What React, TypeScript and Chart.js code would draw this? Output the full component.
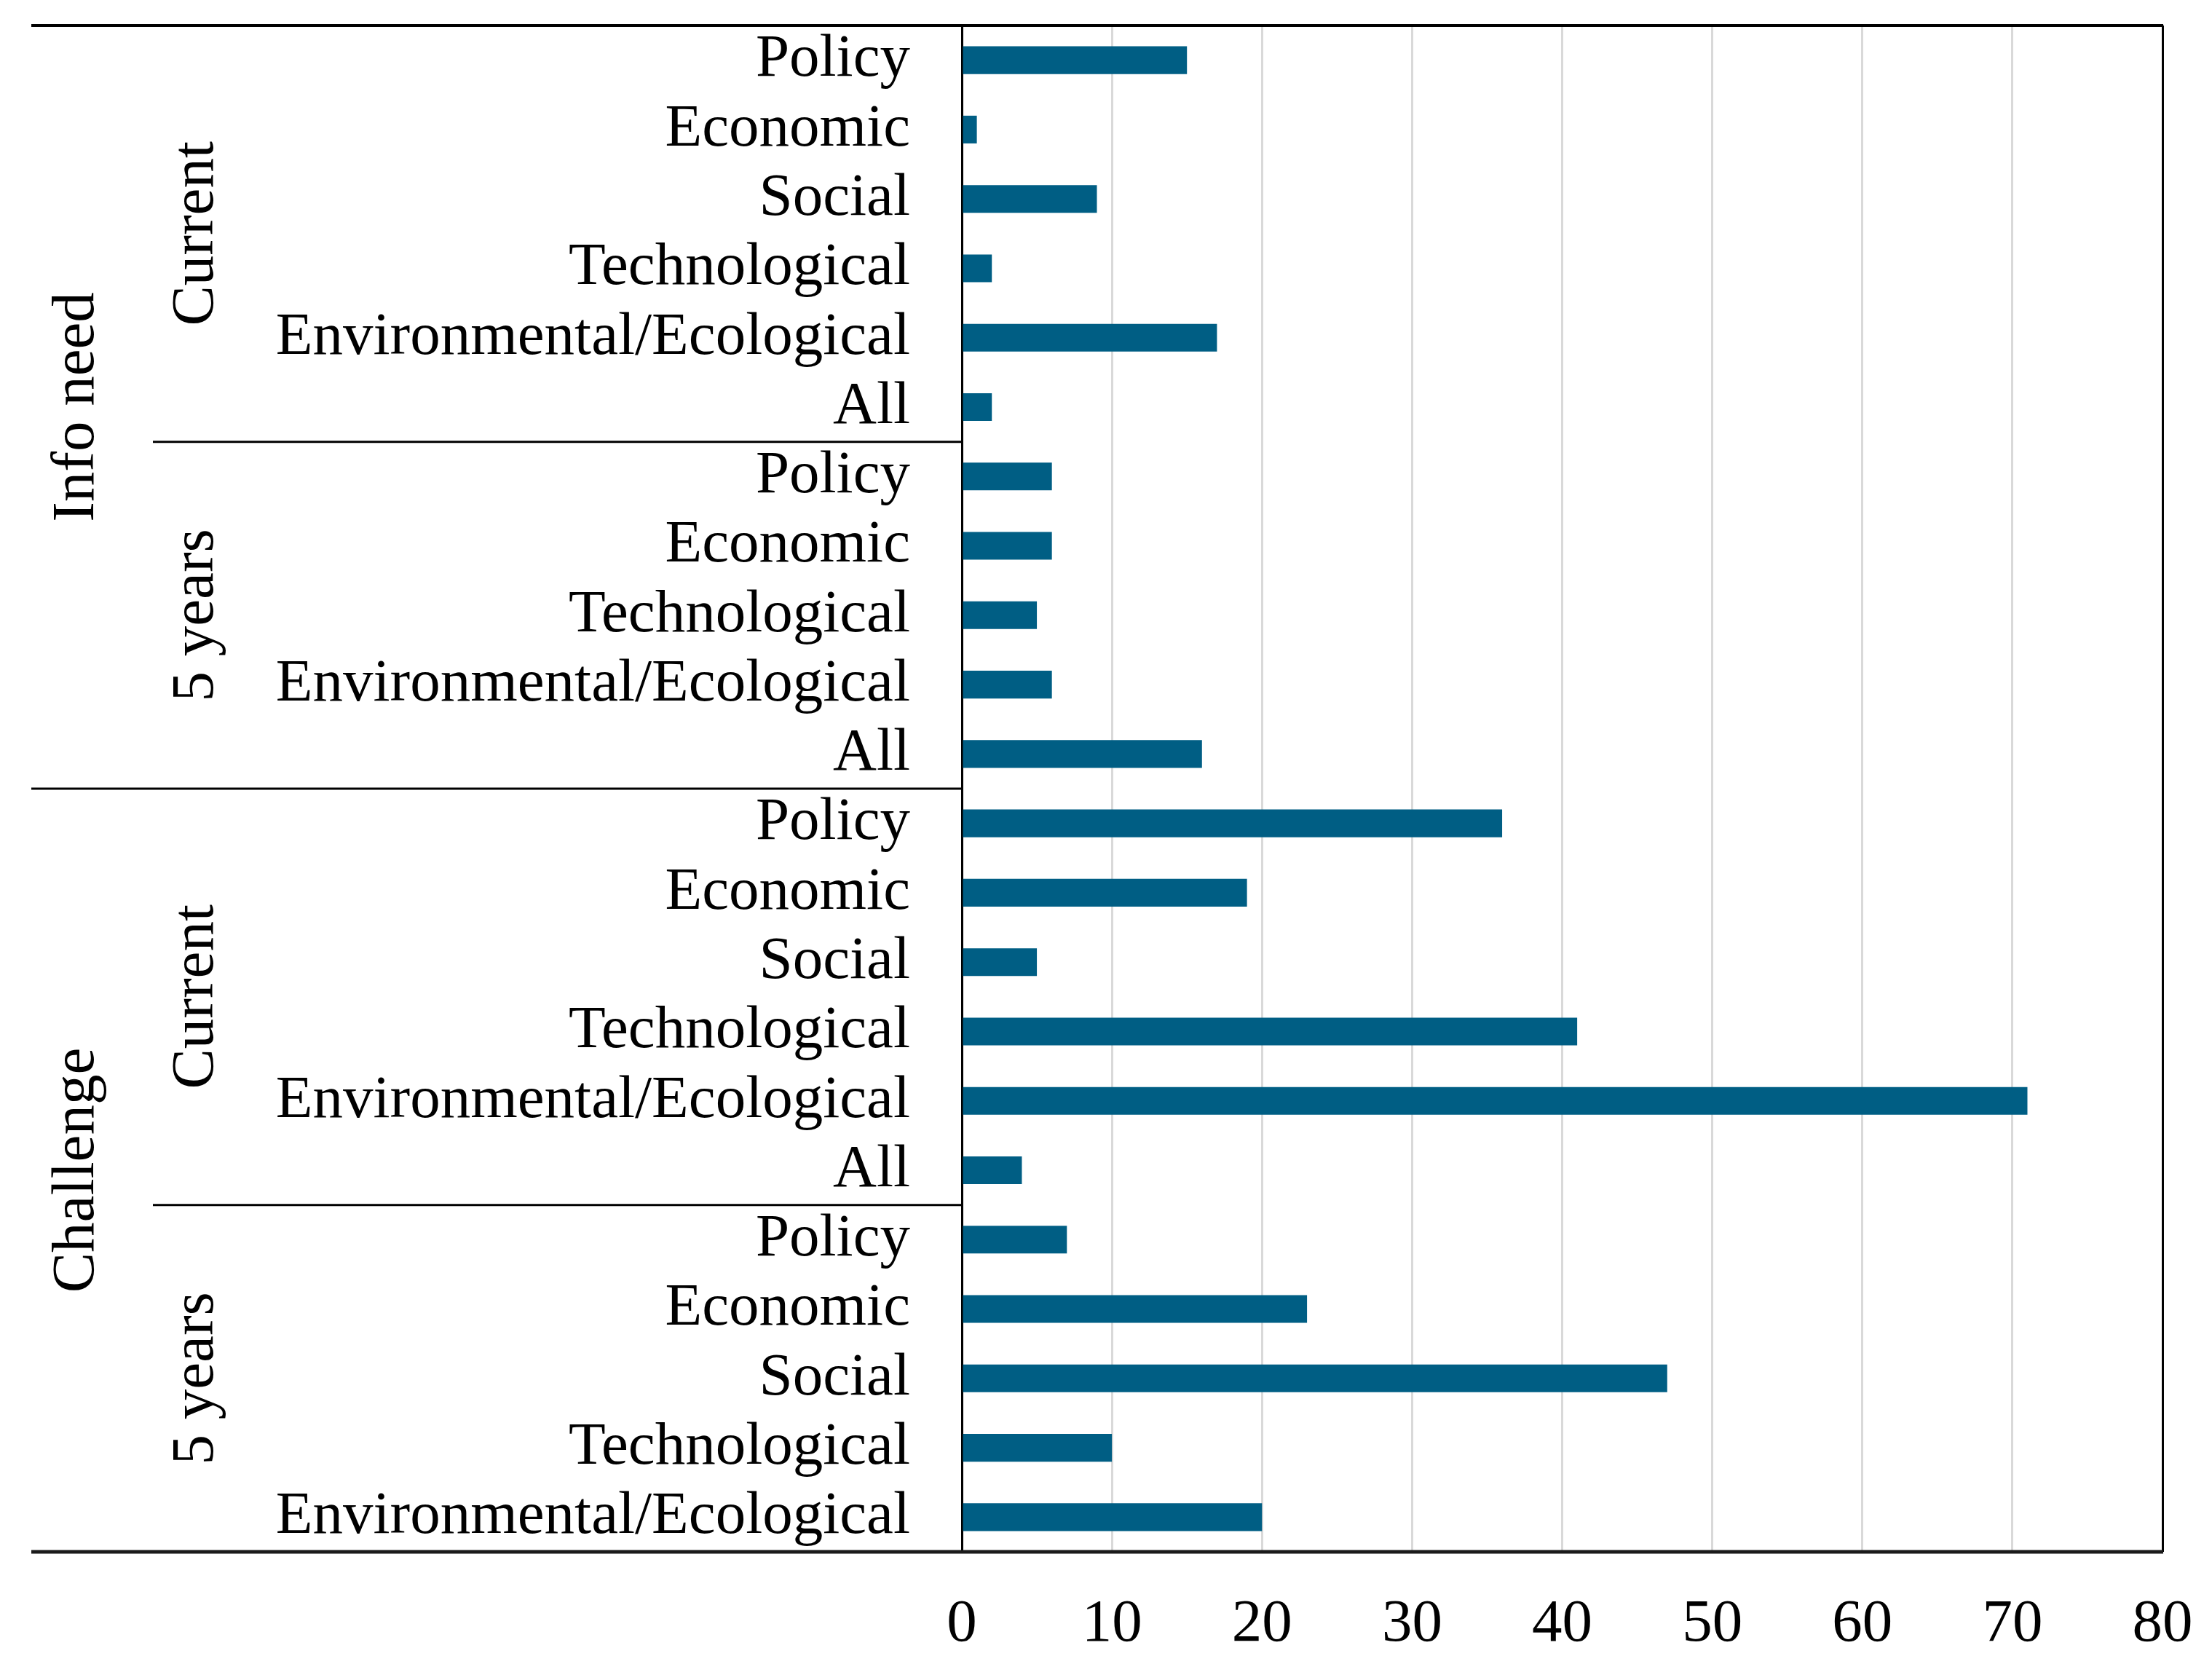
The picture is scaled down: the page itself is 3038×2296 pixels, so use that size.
import React, { useEffect, useRef } from "react";
import { Chart, registerables } from "chart.js";

Chart.register(...registerables);

// ---- data ----
const infoCurrentLabels = ["Policy", "Economic", "Social", "Technological", "Environmental/Ecological", "All"];
const infoCurrentValues = [15, 1, 9, 2, 17, 2];
const info5Labels = ["Policy", "Economic", "Technological", "Environmental/Ecological", "All"];
const info5Values = [6, 6, 5, 6, 16];
const chalCurrentLabels = ["Policy", "Economic", "Social", "Technological", "Environmental/Ecological", "All"];
const chalCurrentValues = [36, 19, 5, 41, 71, 4];
const chal5Labels = ["Policy", "Economic", "Social", "Technological", "Environmental/Ecological"];
const chal5Values = [7, 23, 47, 10, 20];

const outerGroups = ["Info need", "Challenge"];
const innerGroups = ["Current", "5 years", "Current", "5 years"];
const innerSizes = [infoCurrentLabels.length, info5Labels.length, chalCurrentLabels.length, chal5Labels.length];
const outerSizes = [innerSizes[0] + innerSizes[1], innerSizes[2] + innerSizes[3]];

const xMin = 0;
const xMax = 80;
const xStep = 10;

const labels = [...infoCurrentLabels, ...info5Labels, ...chalCurrentLabels, ...chal5Labels];
const values = [...infoCurrentValues, ...info5Values, ...chalCurrentValues, ...chal5Values];

const FONT = "'Liberation Serif', 'Times New Roman', serif";
const FSIZE = 83;
const BAR = "#005E84";

const groupPlugin = {
  id: "groupLabels",
  afterDraw(chart: any) {
    const { ctx, chartArea } = chart;
    const y = chart.scales.y;
    const step = y.getPixelForValue(1) - y.getPixelForValue(0);
    const edge = (i: number) => y.getPixelForValue(i) - step / 2; // boundary above index i
    const outerLeft = 43;
    const innerLeft = 210;
    ctx.save();
    ctx.strokeStyle = "#000";
    // top line
    ctx.lineWidth = 4;
    ctx.beginPath();
    ctx.moveTo(outerLeft, chartArea.top);
    ctx.lineTo(chartArea.right + 1, chartArea.top);
    ctx.stroke();
    // bottom line
    ctx.lineWidth = 5;
    ctx.strokeStyle = "#1a1a1a";
    ctx.beginPath();
    ctx.moveTo(outerLeft, chartArea.bottom);
    ctx.lineTo(chartArea.right + 1, chartArea.bottom);
    ctx.stroke();
    ctx.strokeStyle = "#000";
    ctx.lineWidth = 3;
    // outer separators
    let idx = 0;
    for (let g = 0; g < outerSizes.length - 1; g++) {
      idx += outerSizes[g];
      const yy = edge(idx);
      ctx.beginPath();
      ctx.moveTo(outerLeft, yy);
      ctx.lineTo(chartArea.left, yy);
      ctx.stroke();
    }
    // inner separators
    idx = 0;
    for (let g = 0; g < innerSizes.length - 1; g++) {
      idx += innerSizes[g];
      if (idx === outerSizes[0]) continue;
      const yy = edge(idx);
      ctx.beginPath();
      ctx.moveTo(innerLeft, yy);
      ctx.lineTo(chartArea.left, yy);
      ctx.stroke();
    }
    // rotated labels
    ctx.fillStyle = "#000";
    ctx.font = `${FSIZE}px ${FONT}`;
    ctx.textAlign = "center";
    ctx.textBaseline = "alphabetic";
    const drawRot = (text: string, x: number, yc: number) => {
      ctx.save();
      ctx.translate(x, yc);
      ctx.rotate(-Math.PI / 2);
      ctx.fillText(text, 0, 0);
      ctx.restore();
    };
    idx = 0;
    outerGroups.forEach((t, g) => {
      const top = edge(idx);
      const bottom = edge(idx + outerSizes[g]);
      drawRot(t, 128, (top + bottom) / 2);
      idx += outerSizes[g];
    });
    idx = 0;
    innerGroups.forEach((t, g) => {
      const top = edge(idx);
      const bottom = edge(idx + innerSizes[g]);
      drawRot(t, 292, (top + bottom) / 2);
      idx += innerSizes[g];
    });
    ctx.restore();
  },
};

export default function App() {
  const ref = useRef<HTMLCanvasElement>(null);
  useEffect(() => {
    if (!ref.current) return;
    const chart = new Chart(ref.current, {
      type: "bar",
      data: {
        labels,
        datasets: [
          {
            data: values,
            backgroundColor: BAR,
            borderWidth: 0,
            categoryPercentage: 1,
            barPercentage: 0.4,
          },
        ],
      },
      options: {
        indexAxis: "y",
        animation: false,
        responsive: false,
        devicePixelRatio: 1,
        layout: { padding: { top: 35, right: 68, left: 0, bottom: 0 } },
        plugins: { legend: { display: false }, tooltip: { enabled: false } },
        scales: {
          x: {
            min: xMin,
            max: xMax,
            ticks: {
              stepSize: xStep,
              color: "#000",
              font: { family: FONT, size: FSIZE },
              padding: 50,
              maxRotation: 0,
            },
            grid: {
              drawTicks: false,
              lineWidth: 3,
              color: (c: any) =>
                c.tick && (c.tick.value === xMax || c.tick.value === xMin) ? "#000" : "#D9D9D9",
            },
            border: { display: false },
            afterFit: (s: any) => {
              s.height = 165;
              s.paddingLeft = 0;
              s.paddingRight = 0;
            },
          },
          y: {
            ticks: {
              color: "#000",
              font: { family: FONT, size: FSIZE },
              padding: 71,
              autoSkip: false,
            },
            grid: { display: false, drawTicks: false },
            border: { display: true, color: "#000", width: 3 },
            afterFit: (s: any) => {
              s.width = 1321;
              s.paddingTop = 0;
              s.paddingBottom = 0;
            },
          },
        },
      },
      plugins: [groupPlugin],
    });
    return () => chart.destroy();
  }, []);
  return (
    <div style={{ position: "absolute", left: 0, top: 0, width: 3038, height: 2296, background: "#fff" }}>
      <canvas ref={ref} width={3038} height={2296} style={{ width: 3038, height: 2296 }} />
    </div>
  );
}
